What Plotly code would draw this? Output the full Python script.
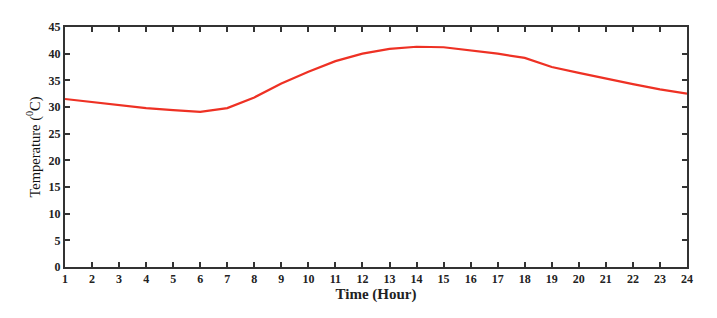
import plotly.graph_objects as go

hours = list(range(1, 25))
temperature = [31.5, 30.9, 30.3, 29.8, 29.4, 29.1, 29.8, 31.8, 34.4, 36.6, 38.6, 40.0,
               40.9, 41.3, 41.2, 40.6, 40.0, 39.2, 37.5, 36.4, 35.3, 34.3, 33.3, 32.5]
x_ticks = list(range(1, 25))
y_ticks = list(range(0, 50, 5))

font_family = "Liberation Serif"

fig = go.Figure()
fig.add_trace(go.Scatter(
    x=hours, y=temperature, mode="lines",
    line=dict(color="#ee3124", width=2.2),
    showlegend=False,
))

axis_common = dict(
    showgrid=False, zeroline=False,
    showline=True, linecolor="#333333", linewidth=2,
    ticks="inside", ticklen=5, tickwidth=2, tickcolor="#333333",
    mirror="ticks",
    tickfont=dict(family=font_family, size=12, color="#222222", weight="bold"),
)

fig.update_xaxes(
    range=[1, 24], tickvals=x_ticks,
    title=dict(text="<b>Time (Hour)</b>", font=dict(family=font_family, size=15, color="#222222"), standoff=2),
    **axis_common,
)
fig.update_yaxes(
    range=[0, 45], tickvals=y_ticks,
    title=dict(text="Temperature (<sup>0</sup>C)", font=dict(family=font_family, size=14.5, color="#111111"), standoff=5),
    **axis_common,
)

fig.update_layout(
    width=717, height=318,
    margin=dict(l=57, r=38, t=15, b=59),
    plot_bgcolor="white", paper_bgcolor="white",
)

fig.write_html("out.html")
